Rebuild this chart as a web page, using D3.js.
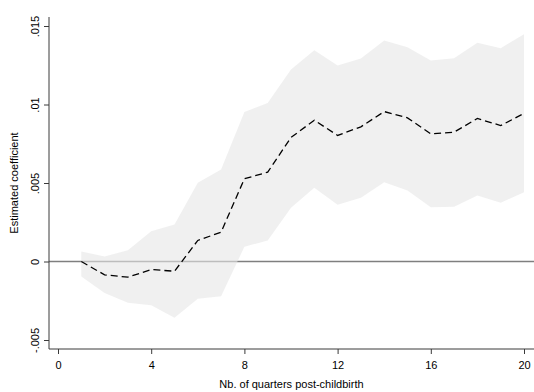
<!DOCTYPE html>
<html>
<head>
<meta charset="utf-8">
<script src="https://cdn.jsdelivr.net/npm/d3@7/dist/d3.min.js"></script>
<style>
  html, body { margin: 0; padding: 0; background: #fff; }
  svg { display: block; }
  text { font-family: "Liberation Sans", Arial, sans-serif; fill: #000; }
</style>
</head>
<body>
<svg id="chart" width="534" height="392"></svg>
<script>
// Quarters after childbirth
const quarters = [1,2,3,4,5,6,7,8,9,10,11,12,13,14,15,16,17,18,19,20];
// Point estimates
const estimate = [0.0000,-0.00085,-0.0010,-0.00051,-0.00062,0.00134,0.00187,0.00527,0.00569,0.0079,
                  0.0090,0.00803,0.00858,0.00955,0.00915,0.00813,0.00824,0.00911,0.00866,0.00943];
// Upper and lower confidence bounds
const upper = [0.00064,0.00032,0.00072,0.00193,0.00236,0.00501,0.00586,0.00953,0.0101,0.01223,
               0.01346,0.01248,0.01293,0.01408,0.01365,0.0128,0.01295,0.01393,0.01359,0.01448];
const lower = [-0.00096,-0.0020,-0.00263,-0.00278,-0.00359,-0.00238,-0.00221,0.00094,0.00134,0.00342,
               0.0047,0.00361,0.00406,0.00505,0.00452,0.00346,0.00348,0.0042,0.00374,0.00441];
// Axis ticks
const xTicks = [0,4,8,12,16,20];
const yTicks = [-0.005,0,0.005,0.01,0.015];
const yTickLabels = ["-.005","0",".005",".01",".015"];

const plot = { left: 49, right: 534, top: 17, bottom: 349 };
const svg = d3.select("#chart");

const x = d3.scaleLinear().domain([0, 20]).range([58, 524]);
const y = d3.scaleLinear().domain([-0.005, 0.015]).range([340, 26]);

const rows = quarters.map((q, i) => ({ q, est: estimate[i], hi: upper[i], lo: lower[i] }));

// Reference line at zero
svg.append("line")
  .attr("x1", plot.left).attr("x2", plot.right)
  .attr("y1", y(0)).attr("y2", y(0))
  .attr("stroke", "#7f7f7f").attr("stroke-width", 1.5);

// Confidence band
svg.append("path")
  .datum(rows)
  .attr("d", d3.area().x(d => x(d.q)).y0(d => y(d.lo)).y1(d => y(d.hi)))
  .attr("fill", "#e6e6e6").attr("fill-opacity", 0.6);

// Estimate line
svg.append("path")
  .datum(rows)
  .attr("d", d3.line().x(d => x(d.q)).y(d => y(d.est)))
  .attr("fill", "none").attr("stroke", "#000")
  .attr("stroke-width", 1.3).attr("stroke-dasharray", "7,4");

// Y axis
const yAxis = svg.append("g").attr("transform", `translate(${plot.left},0)`)
  .call(d3.axisLeft(y).tickValues(yTicks).tickSize(5).tickFormat((d, i) => yTickLabels[i]));
yAxis.select(".domain").remove();
yAxis.append("line").attr("x1", 0).attr("x2", 0)
  .attr("y1", plot.top).attr("y2", plot.bottom).attr("stroke", "#3a3a3a");
yAxis.selectAll(".tick line").attr("stroke", "#3a3a3a");
yAxis.selectAll(".tick text")
  .attr("x", null).attr("dy", null)
  .attr("transform", "translate(-10,0) rotate(-90)")
  .attr("text-anchor", "middle")
  .style("font-size", "11px").style("font-family", "'Liberation Sans', Arial, sans-serif")
  .attr("fill", "#000");

// X axis
const xAxis = svg.append("g").attr("transform", `translate(0,${plot.bottom})`)
  .call(d3.axisBottom(x).tickValues(xTicks).tickSize(5).tickFormat(d3.format("d")));
xAxis.select(".domain").remove();
xAxis.append("line").attr("x1", plot.left).attr("x2", plot.right)
  .attr("y1", 0).attr("y2", 0).attr("stroke", "#3a3a3a");
xAxis.selectAll(".tick line").attr("stroke", "#3a3a3a");
xAxis.selectAll(".tick text")
  .attr("y", 20).attr("dy", null)
  .style("font-size", "11px").style("font-family", "'Liberation Sans', Arial, sans-serif")
  .attr("fill", "#000");

// Axis titles
svg.append("text")
  .attr("transform", `translate(18,${(plot.top + plot.bottom) / 2}) rotate(-90)`)
  .attr("text-anchor", "middle").style("font-size", "11px")
  .text("Estimated coefficient");
svg.append("text")
  .attr("x", (plot.left + plot.right) / 2).attr("y", 388)
  .attr("text-anchor", "middle").style("font-size", "11px")
  .text("Nb. of quarters post-childbirth");
</script>
</body>
</html>
